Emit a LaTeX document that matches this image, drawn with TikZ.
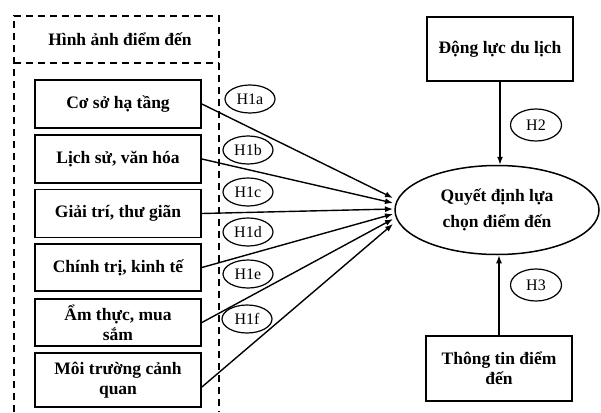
\documentclass[tikz,border=0pt]{standalone}
\usepackage{fontspec}
\setmainfont{Liberation Serif}
\usetikzlibrary{shapes.geometric,arrows.meta}
\begin{document}
\begin{tikzpicture}[x=1pt,y=-1pt,
  fbox/.style={draw,line width=1.8pt,minimum width=166pt,align=center,inner sep=0pt,
    font=\fontsize{17.5}{20}\selectfont\bfseries},
  rbox/.style={draw,line width=1.8pt,minimum width=146pt,minimum height=64pt,align=center,inner sep=0pt,
    font=\fontsize{17.5}{20}\selectfont\bfseries},
  hyp/.style={draw,fill=white,ellipse,line width=1.2pt,minimum width=50pt,minimum height=28pt,inner sep=0pt,
    font=\fontsize{16}{17}\selectfont},
  arr/.style={line width=1.4pt,-{Latex[length=8pt,width=6pt]}},
  dbox/.style={line width=1.5pt,dash pattern=on 7pt off 5pt}
]
\useasboundingbox (0,0) rectangle (601,412);
% dashed group
\draw[dbox] (14,412) -- (14,16) -- (219,16) -- (219,412);
\draw[dbox] (14,63) -- (219,63);
\node[font=\fontsize{17.5}{20}\selectfont\bfseries] (title) at (120,39) {Hình ảnh điểm đến};
% factor boxes
\node[fbox,minimum height=48pt] (b1) at (118,104) {Cơ sở hạ tầng};
\node[fbox,minimum height=48pt] (b2) at (118,159) {Lịch sử, văn hóa};
\node[fbox,minimum height=48pt] (b3) at (118,213.5) {Giải trí, thư giãn};
\node[fbox,minimum height=47pt] (b4) at (118,267.5) {Chính trị, kinh tế};
\node[fbox,minimum height=47pt] (b5) at (118,322.5) {Ẩm thực, mua\\sắm};
\node[fbox,minimum height=54pt] (b6) at (118,380) {Môi trường cảnh\\quan};
% decision ellipse
\node[draw,ellipse,line width=1.5pt,minimum width=204pt,minimum height=89pt,align=center,inner sep=0pt,
  font=\fontsize{17.5}{26}\selectfont\bfseries] (q) at (497,210) {Quyết định lựa\\chọn điểm đến};
% right boxes
\node[rbox] (dl) at (500,49) {Động lực du lịch};
\node[rbox,minimum height=65pt] (tt) at (499,368.5) {Thông tin điểm\\đến};
% target points on ellipse
\coordinate (e1) at (393,198);
\coordinate (e2) at (393,203);
\coordinate (e3) at (393,209);
\coordinate (e4) at (393,214);
\coordinate (e5) at (393,219);
\coordinate (e6) at (393,224);
\draw[arr] (b1.east) -- (e1);
\draw[arr] (b2.east) -- (e2);
\draw[arr] (b3.east) -- (e3);
\draw[arr] (b4.east) -- (e4);
\draw[arr] (b5.east) -- (e5);
\draw[arr] ([yshift=-7pt]b6.east) -- (e6);
\draw[arr] (dl.south) -- (dl.south |- q.north);
\draw[arr] (tt.north) -- (tt.north |- q.south);
% hypothesis labels
\node[hyp] (h1a) at (250,99) {H1a};
\node[hyp] (h1b) at (248,150) {H1b};
\node[hyp] (h1c) at (248,192) {H1c};
\node[hyp] (h1d) at (248,232) {H1d};
\node[hyp] (h1e) at (248,274) {H1e};
\node[hyp] (h1f) at (247,319) {H1f};
\node[hyp,minimum width=51pt,minimum height=32pt] (h2) at (536,125) {H2};
\node[hyp,minimum width=51pt,minimum height=32pt] (h3) at (536,285) {H3};
\end{tikzpicture}
\end{document}
